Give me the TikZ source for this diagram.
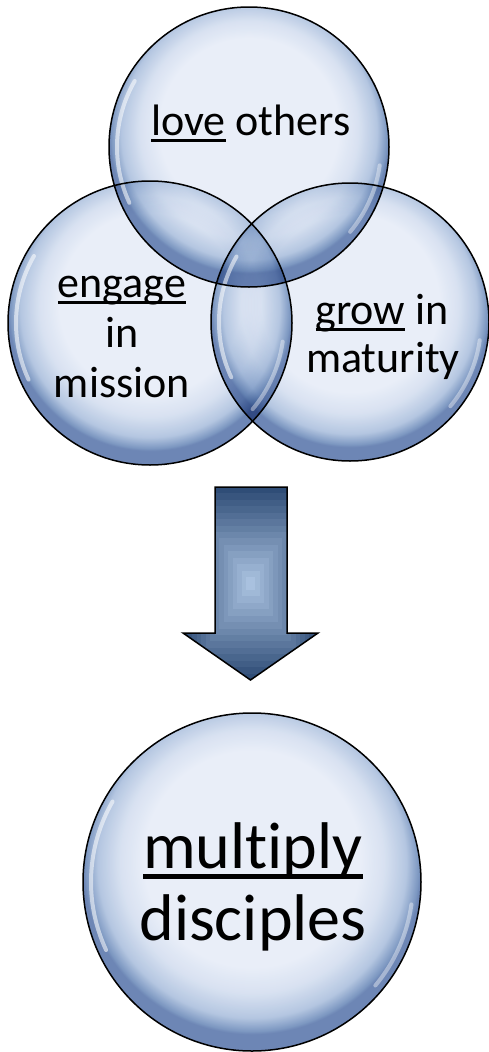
\documentclass[tikz,border=0pt]{standalone}
\usepackage{fontspec}
\setmainfont{Carlito}[Ligatures={NoCommon}]
\definecolor{bubblebase}{HTML}{E9EEF8}
\definecolor{rimA}{HTML}{EDF2F8}
\definecolor{rimB}{HTML}{C6D5E8}
\definecolor{rimC}{HTML}{89A3C7}
\definecolor{rimD}{HTML}{7890BB}
\definecolor{arrowdark}{HTML}{2F4D77}
\definecolor{arrowlight}{HTML}{A9C1DF}
\pgfdeclareradialshading{bubblerim}{\pgfpoint{0bp}{5bp}}{%
  color(0bp)=(white); color(16bp)=(white); color(19.5bp)=(rimA);
  color(22.8bp)=(rimB); color(24.6bp)=(rimC); color(25bp)=(rimD); color(50bp)=(rimD)}
\newcommand\ulword[1]{\setbox0=\hbox{#1}\rlap{\rule[-0.16em]{\wd0}{0.066em}}\box0\relax}
\begin{document}
\begin{tikzpicture}[x=1pt,y=-1pt,
  outline/.style={draw=black,line width=1.5pt},
  gloss/.style={draw=white,line width=4pt,opacity=0.55,line cap=round},
  small/.style={font=\fontsize{44}{50}\selectfont,anchor=base,inner sep=0pt},
  big/.style={font=\fontsize{66}{72}\selectfont,anchor=base,inner sep=0pt}]
\useasboundingbox (0,0) rectangle (489,1052);
\coordinate (ctop) at (249,147);
\coordinate (cleft) at (150,323);
\coordinate (cright) at (350,322);
\coordinate (cbot) at (252,882);
% base fills
\foreach \c/\r in {ctop/140,cleft/142,cright/139,cbot/169}
  \fill[bubblebase] (\c) circle[radius=\r pt];
% rim shading (multiplied so overlaps darken)
\foreach \c/\r in {ctop/140,cleft/142,cright/139,cbot/169}
  \shade[shading=bubblerim,blend mode=multiply] (\c) circle[radius=\r pt];
% glossy highlights
\foreach \c/\r in {ctop/140,cleft/142,cright/139,cbot/169}{
  \pgfmathsetmacro\rr{\r-8}
  \draw[gloss] (\c) ++(150:\rr pt) arc[start angle=150,end angle=205,radius=\rr pt];
  \draw[gloss,opacity=0.4] (\c) ++(-40:\rr pt) arc[start angle=-40,end angle=-8,radius=\rr pt];
}
% outlines
\foreach \c/\r in {ctop/140,cleft/142,cright/139,cbot/169}
  \draw[outline] (\c) circle[radius=\r pt];
% arrow
\coordinate (a1) at (215,487);
\coordinate (a2) at (287,487);
\coordinate (a3) at (287,633);
\coordinate (a4) at (318,633);
\coordinate (tip) at (250.5,680);
\coordinate (a6) at (183,633);
\coordinate (a7) at (215,633);
\begin{scope}
\clip (a1) -- (a2) -- (a3) -- (a4) -- (tip) -- (a6) -- (a7) -- cycle;
\foreach \i in {0,...,14}{
  \pgfmathsetmacro\s{1-\i/15}
  \pgfmathsetmacro\p{100*\i/14}
  \fill[arrowlight!\p!arrowdark] (250.5-67.5*\s,583.5-96.5*\s) rectangle (250.5+67.5*\s,583.5+96.5*\s);
}
\end{scope}
\draw[line width=1.5pt,line join=miter] (a1) -- (a2) -- (a3) -- (a4) -- (tip) -- (a6) -- (a7) -- cycle;
% texts
\node[small] (t-love) at (251,135) {\ulword{love} others};
\node[small] (t-engage) at (122,297) {\ulword{engage}};
\node[small] (t-in) at (122,347) {in};
\node[small] (t-mission) at (122,397) {mission};
\node[small] (t-grow) at (382,324) {\ulword{grow} in};
\node[small] (t-maturity) at (383,372) {maturity};
\node[big] (t-multiply) at (253,868) {\ulword{multiply}};
\node[big] (t-disciples) at (253,940) {disciples};
\end{tikzpicture}
\end{document}
